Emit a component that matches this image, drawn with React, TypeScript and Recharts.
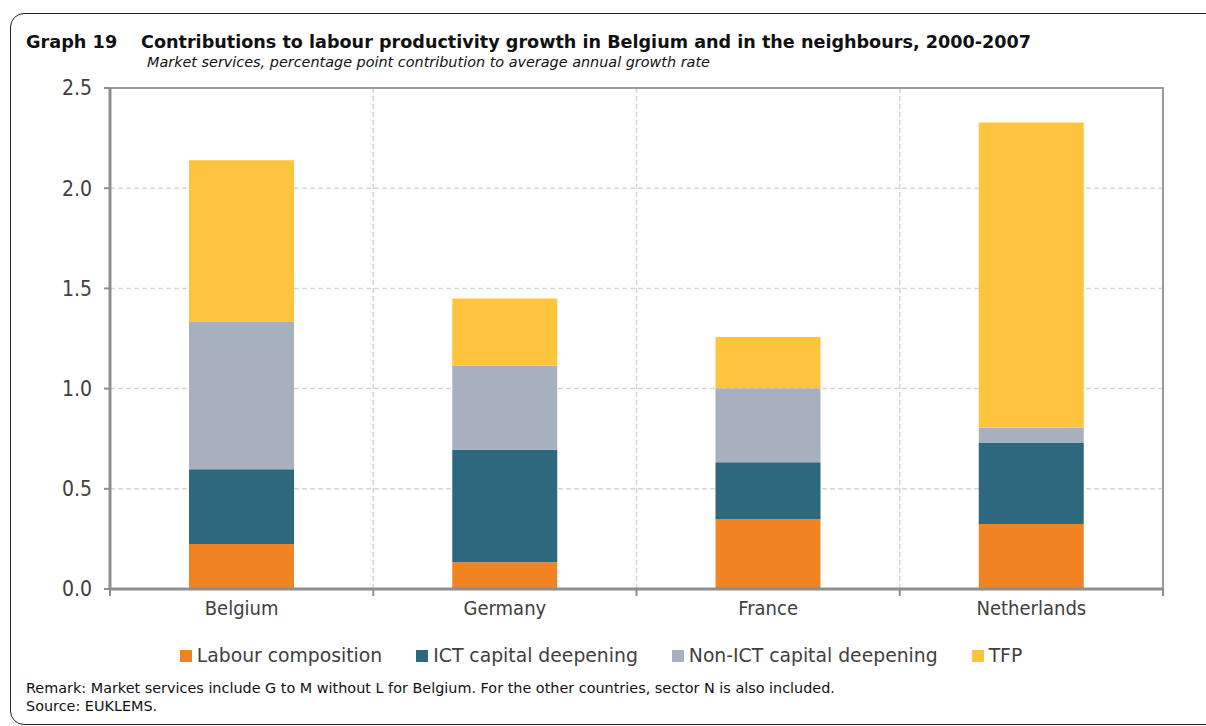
import React from "react";
import { BarChart, Bar, XAxis, YAxis, CartesianGrid, ReferenceArea } from "recharts";

const countries = ["Belgium", "Germany", "France", "Netherlands"];
const labourComposition = [0.225, 0.133, 0.349, 0.324];
const ictCapital = [0.372, 0.562, 0.284, 0.404];
const nonIctCapital = [0.735, 0.419, 0.369, 0.077];
const tfp = [0.808, 0.336, 0.256, 1.523];
const yTicks = [0, 0.5, 1, 1.5, 2, 2.5];

const SERIES = [
  { key: "labour", name: "Labour composition", color: "#F28322", values: labourComposition },
  { key: "ict", name: "ICT capital deepening", color: "#2E687E", values: ictCapital },
  { key: "nonict", name: "Non-ICT capital deepening", color: "#A6B0BE", values: nonIctCapital },
  { key: "tfp", name: "TFP", color: "#FFC43D", values: tfp },
];

const data = countries.map((c, i) => {
  const row: Record<string, string | number> = { country: c };
  SERIES.forEach((s) => (row[s.key] = s.values[i]));
  return row;
});

const COND = "'DejaVu Sans Condensed', 'DejaVu Sans', sans-serif";
const REG = "'DejaVu Sans', sans-serif";
const AXIS = "#8e8e8e";
const TEXT = "#404040";
const TICK_SIZE = 6;
const TICK_MARGIN = 6;

// dashed verticals sit between the countries, not under the bars
const boundaryLines = ({ offset }: any) =>
  countries.slice(1).map((_, i) => offset.left + ((i + 1) * offset.width) / countries.length);

// category label + small tick marks on the band edges (payload.offset = half band)
const CountryTick = ({ x, y, payload, index }: any) => {
  const half = payload.offset || 0;
  const axisY = y - TICK_SIZE - TICK_MARGIN;
  const last = index === countries.length - 1;
  return (
    <g>
      <line x1={x - half} x2={x - half} y1={axisY} y2={axisY + 7} stroke={AXIS} strokeWidth={2} />
      {last && <line x1={x + half} x2={x + half} y1={axisY} y2={axisY + 7} stroke={AXIS} strokeWidth={2} />}
      <text x={x} y={y} dy="0.71em" textAnchor="middle" fill={TEXT} fontSize={20} fontFamily={COND}>
        {payload.value}
      </text>
    </g>
  );
};

export default function App() {
  return (
    <div
      style={{
        position: "absolute",
        left: 0,
        top: 0,
        width: 1206,
        height: 726,
        overflow: "hidden",
        background: "#fff",
        fontFamily: REG,
      }}
    >
      <div
        style={{
          position: "absolute",
          left: 10,
          top: 13,
          width: 1230,
          height: 710,
          border: "1.5px solid #222",
          borderRadius: 14,
        }}
      />
      <div style={{ position: "absolute", left: 26, top: 32, fontSize: 17.7, fontWeight: "bold", color: "#111", whiteSpace: "nowrap" }}>
        Graph 19
      </div>
      <div style={{ position: "absolute", left: 141, top: 32, fontSize: 17.6, fontWeight: "bold", color: "#111", whiteSpace: "nowrap" }}>
        Contributions to labour productivity growth in Belgium and in the neighbours, 2000-2007
      </div>
      <div style={{ position: "absolute", left: 147, top: 54, fontSize: 14.4, fontStyle: "italic", color: "#111", whiteSpace: "nowrap" }}>
        Market services, percentage point contribution to average annual growth rate
      </div>

      <div style={{ position: "absolute", left: 0, top: 0 }}>
        <BarChart width={1206} height={726} data={data} margin={{ top: 88, right: 43, bottom: 107, left: 50 }}>
          <CartesianGrid
            xAxisId="cat"
            stroke="#d6d6d6"
            strokeWidth={1.5}
            strokeDasharray="5 3"
            verticalCoordinatesGenerator={boundaryLines}
          />
          <XAxis
            xAxisId="cat"
            dataKey="country"
            height={30}
            tickLine={false}
            tickSize={TICK_SIZE}
            tickMargin={TICK_MARGIN}
            axisLine={{ stroke: AXIS, strokeWidth: 3 }}
            tick={<CountryTick />}
          />
          <YAxis
            domain={[0, 2.5]}
            ticks={yTicks}
            width={60}
            tickSize={6}
            tickMargin={12}
            tickFormatter={(v: number) => v.toFixed(1)}
            axisLine={{ stroke: AXIS, strokeWidth: 3 }}
            tickLine={{ stroke: AXIS, strokeWidth: 2 }}
            tick={{ fill: TEXT, fontSize: 21, fontFamily: COND }}
          />
          <ReferenceArea xAxisId="cat" y1={0} y2={2.5} fill="none" stroke="#9a9a9a" strokeWidth={2} />
          {SERIES.map((s) => (
            <Bar key={s.key} xAxisId="cat" dataKey={s.key} name={s.name} stackId="a" fill={s.color} barSize={105} isAnimationActive={false} />
          ))}
        </BarChart>
      </div>

      <div
        style={{
          position: "absolute",
          top: 645,
          left: 0,
          width: 1202,
          display: "flex",
          justifyContent: "center",
          gap: 34,
          fontSize: 18.8,
          color: TEXT,
          whiteSpace: "nowrap",
        }}
      >
        {SERIES.map((s) => (
          <span key={s.key}>
            <span style={{ display: "inline-block", width: 12, height: 12, background: s.color, marginRight: 5 }} />
            {s.name}
          </span>
        ))}
      </div>

      <div style={{ position: "absolute", left: 26, top: 679, fontSize: 14.4, color: "#111", lineHeight: "18px", whiteSpace: "nowrap" }}>
        Remark: Market services include G to M without L for Belgium. For the other countries, sector N is also included.
        <br />
        Source: EUKLEMS.
      </div>
    </div>
  );
}
